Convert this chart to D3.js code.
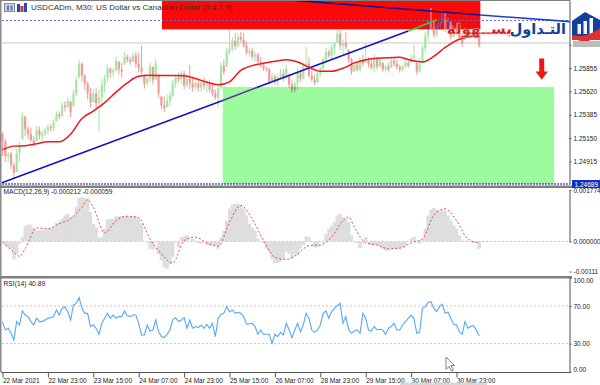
<!DOCTYPE html>
<html>
<head>
<meta charset="utf-8">
<script src="https://cdn.jsdelivr.net/npm/d3@7"></script>
<style>
  html, body { margin: 0; padding: 0; background: #fff; overflow: hidden; }
  text { font-family: "Liberation Sans", sans-serif; fill: #222; }
</style>
</head>
<body>
<div id="chart"></div>
<script>
// one candle per hour
const firstOpen = 1.2519;
const highs = [1.2521,1.2514,1.2501,1.2501,1.2491,1.2504,1.2511,1.2541,1.2537,1.2527,1.2526,1.2517,1.2527,1.2527,1.2522,1.2526,1.2529,1.2529,1.2534,1.2542,
1.2542,1.2551,1.2552,1.2556,1.2552,1.2564,1.2577,1.2594,1.2591,1.2579,1.2572,1.2566,1.2564,1.2565,1.2564,1.2574,1.2579,1.2589,1.2586,1.2586,
1.2597,1.2592,1.2591,1.2601,1.2599,1.2597,1.2601,1.2602,1.2601,1.2608,1.2579,1.2579,1.2591,1.2587,1.2595,1.2579,1.2557,1.2557,1.2559,1.2562,
1.2574,1.2579,1.2581,1.2583,1.2583,1.2579,1.2589,1.2577,1.2572,1.2574,1.2574,1.2576,1.2572,1.2574,1.2571,1.2564,1.2569,1.2591,1.2594,1.2606,
1.2626,1.2617,1.2621,1.2621,1.2622,1.2621,1.2612,1.2606,1.2606,1.2602,1.2601,1.2597,1.2591,1.2587,1.2586,1.2581,1.2579,1.2579,1.2584,1.2584,
1.2589,1.2579,1.2574,1.2572,1.2586,1.2584,1.2591,1.2607,1.2596,1.2584,1.2579,1.2582,1.2587,1.2597,1.2606,1.2604,1.2609,1.2612,1.2624,1.2624,
1.2614,1.2622,1.2604,1.2596,1.2592,1.2592,1.2597,1.2599,1.2611,1.2596,1.2594,1.2599,1.2596,1.2596,1.2591,1.2589,1.2591,1.2596,1.2597,1.2594,
1.2589,1.2589,1.2594,1.2592,1.2599,1.2609,1.2591,1.2596,1.2609,1.2622,1.2634,1.2646,1.2634,1.2629,1.2636,1.2641,1.2641,1.2636,1.2632,1.2629,
1.2631,1.2624,1.2621,1.2626,1.2624,1.2626,1.2624,1.2621,1.2619];
const lows = [1.2497,1.2491,1.2491,1.2484,1.2474,1.2481,1.2491,1.2514,1.2517,1.2514,1.2511,1.2507,1.2512,1.2514,1.2512,1.2517,1.2519,1.2522,1.2522,1.2532,
1.2534,1.2537,1.2542,1.2546,1.2536,1.2547,1.2557,1.2576,1.2572,1.2564,1.2554,1.2546,1.2551,1.2544,1.2521,1.2547,1.2561,1.2571,1.2576,1.2577,
1.2582,1.2579,1.2576,1.2589,1.2591,1.2589,1.2592,1.2586,1.2581,1.2579,1.2565,1.2567,1.2571,1.2569,1.2574,1.2556,1.2544,1.2541,1.2546,1.2547,
1.2556,1.2566,1.2571,1.2569,1.2564,1.2566,1.2564,1.2562,1.2564,1.2562,1.2562,1.2564,1.2561,1.2561,1.2557,1.2554,1.2546,1.2564,1.2579,1.2587,
1.2599,1.2602,1.2604,1.2606,1.2611,1.2606,1.2599,1.2597,1.2594,1.2592,1.2589,1.2586,1.2583,1.2582,1.2569,1.2571,1.2569,1.2567,1.2574,1.2572,
1.2574,1.2566,1.2561,1.2561,1.2564,1.2572,1.2574,1.2586,1.2576,1.2572,1.2568,1.2571,1.2577,1.2582,1.2591,1.2596,1.2594,1.2599,1.2611,1.2604,
1.2599,1.2604,1.2591,1.2579,1.2582,1.2582,1.2582,1.2587,1.2591,1.2586,1.2584,1.2581,1.2584,1.2586,1.2582,1.2581,1.2582,1.2586,1.2587,1.2584,
1.2581,1.2582,1.2586,1.2586,1.2591,1.2594,1.2579,1.2581,1.2591,1.2601,1.2612,1.2624,1.2616,1.2617,1.2624,1.2631,1.2622,1.2624,1.2614,1.2617,
1.2621,1.2614,1.2607,1.2614,1.2616,1.2617,1.2617,1.2616,1.2606];
const closes = [1.2512,1.2497,1.2499,1.2488,1.2480,1.2500,1.2508,1.2537,1.2524,1.2519,1.2513,1.2510,1.2523,1.2518,1.2520,1.2523,1.2526,1.2525,1.2531,1.2539,
1.2537,1.2548,1.2546,1.2552,1.2541,1.2560,1.2573,1.2590,1.2578,1.2570,1.2560,1.2551,1.2560,1.2550,1.2556,1.2568,1.2575,1.2585,1.2581,1.2583,
1.2593,1.2584,1.2582,1.2597,1.2594,1.2592,1.2598,1.2590,1.2586,1.2582,1.2570,1.2575,1.2587,1.2573,1.2590,1.2560,1.2548,1.2545,1.2553,1.2558,
1.2570,1.2576,1.2574,1.2580,1.2568,1.2575,1.2570,1.2566,1.2570,1.2566,1.2571,1.2568,1.2569,1.2564,1.2560,1.2556,1.2565,1.2588,1.2582,1.2602,
1.2605,1.2613,1.2608,1.2617,1.2614,1.2608,1.2601,1.2603,1.2597,1.2599,1.2592,1.2589,1.2585,1.2584,1.2572,1.2577,1.2572,1.2576,1.2580,1.2575,
1.2585,1.2569,1.2564,1.2570,1.2580,1.2575,1.2587,1.2590,1.2578,1.2574,1.2571,1.2580,1.2585,1.2594,1.2602,1.2598,1.2606,1.2610,1.2620,1.2608,
1.2611,1.2607,1.2594,1.2582,1.2589,1.2584,1.2594,1.2590,1.2594,1.2590,1.2586,1.2594,1.2587,1.2594,1.2584,1.2587,1.2584,1.2593,1.2590,1.2587,
1.2584,1.2587,1.2591,1.2588,1.2596,1.2598,1.2582,1.2590,1.2605,1.2618,1.2630,1.2627,1.2619,1.2626,1.2632,1.2634,1.2625,1.2632,1.2617,1.2626,
1.2623,1.2616,1.2610,1.2623,1.2618,1.2622,1.2619,1.2618,1.2608];
// moving average, one value every 4 candles
const maValues = [1.25033,1.2507,1.25073,1.25093,1.25113,1.25113,1.2519,1.25347,1.25423,1.25507,1.25613,1.25707,1.25773,1.25783,1.2578,1.2578,1.25777,1.2575,1.25713,1.25687,
1.25717,1.25833,1.2588,1.25903,1.25923,1.2594,1.25917,1.25863,1.25823,1.25823,1.25853,1.25907,1.2594,1.25953,1.2596,1.25963,1.25933,1.25917,1.25973,1.26063,1.26133,1.26167,1.26183];
const maBars = d3.range(0, 169, 4);

const macdHist = [-0.00002,-0.00012,-0.00020,-0.00025,-0.00062,-0.00043,-0.00008,0.00015,0.00053,0.00058,0.00058,0.00046,0.00038,0.00041,0.00041,0.00041,0.00044,0.00046,0.00049,0.00064,
0.00069,0.00078,0.00090,0.00095,0.00084,0.00090,0.00118,0.00150,0.00153,0.00150,0.00147,0.00101,0.00061,0.00049,0.00013,0.00015,0.00044,0.00076,0.00078,0.00078,
0.00087,0.00087,0.00087,0.00087,0.00087,0.00087,0.00087,0.00087,0.00078,0.00061,-0.00002,-0.00002,-0.00025,-0.00028,-0.00002,-0.00043,-0.00066,-0.00089,-0.00094,-0.00077,
-0.00054,-0.00002,-0.00020,0.00015,0.00018,0.00021,-0.00002,0.00009,0.00003,-0.00005,-0.00008,-0.00002,-0.00012,-0.00014,-0.00012,-0.00014,-0.00025,0.00015,0.00038,0.00072,
0.00113,0.00127,0.00130,0.00130,0.00124,0.00113,0.00090,0.00061,0.00049,0.00038,0.00009,0,-0.00005,-0.00025,-0.00037,-0.00060,-0.00074,-0.00074,-0.00069,-0.00060,
-0.00035,-0.00043,-0.00058,-0.00043,-0.00048,-0.00025,-0.00012,0.00018,0.00015,-0.00002,-0.00020,-0.00020,-0.00002,-0.00005,0.00026,0.00044,0.00055,0.00067,0.00090,0.00095,
0.00084,0.00078,0.00067,0.00021,0,-0.00005,-0.00023,-0.00005,0.00015,-0.00005,-0.00012,-0.00014,-0.00012,-0.00016,-0.00025,-0.00031,-0.00033,-0.00025,-0.00025,-0.00025,
-0.00023,-0.00020,-0.00012,-0.00002,0.00009,0.00017,0.00003,-0.00008,0.00009,0.00044,0.00090,0.00110,0.00115,0.00110,0.00104,0.00110,0.00107,0.00090,0.00072,0.00055,
0.00044,0.00021,0.00003,0.00003,0,0,-0.00005,-0.00005,-0.00025];
const signalBars = [0,4,6,8,12,16,20,24,28,30,32,36,40,44,48,52,56,60,64,68,72,76,80,84,88,92,96,100,104,108,112,116,120,122,124,128,132,136,140,144,148,152,156,160,164,168];
const signalValues = [-0.00002,-0.00037,-0.00051,-0.00025,0.00047,0.00044,0.00061,0.00078,0.00118,0.00144,0.00118,0.00030,0.00072,0.00087,0.00082,0.00009,-0.00043,-0.00074,0.00003,0.00015,
-0.00005,-0.00016,0.00067,0.00124,0.00078,0.00003,-0.00054,-0.00062,-0.00043,-0.00014,-0.00012,0.00015,0.00072,0.00084,0.00049,-0.00005,-0.00012,-0.00025,-0.00023,-0.00005,0.00009,0.00090,0.00113,0.00072,0.00009,-0.00005];

const rsiValues = [53.4,44.5,46.3,41,33.9,53.4,49.8,64.7,60.4,58.7,53.4,49.8,56.9,53.4,53.4,55.1,56.9,57.6,58.7,65.8,
60.4,67.5,69.3,64,55.1,71.1,72.8,78.9,67.5,62.2,62.2,48.1,49.8,46.3,39.9,51.6,56.9,62.2,56.9,60.4,
56.9,58.7,58.7,64.7,59.7,58.7,60.4,60.4,51.6,39.2,39.2,49.8,43.4,44.5,55.1,42.7,37.4,36.4,39.9,44.5,
55.1,57.6,53.4,55.1,57.6,46.3,55.1,46.3,48.1,47,49.8,46.3,50.5,46.3,51.6,37.4,56.9,61.1,62.2,69.3,
64,65.8,62.2,63.3,62.2,58.7,50.5,51.2,51.6,48.1,39.9,44.5,39.9,39.9,39.9,30.4,39.9,37.4,42,39.2,
51.6,44.5,36.4,44.5,51.6,42.7,49.8,62.2,56.9,44.5,42,44.5,49.8,62.2,64.7,56.9,64,67.5,70.4,72.8,
51.6,58.7,44.5,41,43.4,44.5,41,62.2,56.9,44.5,43.4,48.1,44.5,45.2,44.5,39.9,46.3,48.1,51.6,44.5,
44.5,49.8,53.4,56.9,60.4,56.9,41,42,67.5,69.3,73.9,74.6,67.5,64,69.3,71.8,62.2,63.3,56.9,50.5,
49.8,42.7,39.9,53.4,46.3,48.1,49.1,44.5,38];

const priceTicks = [1.2609,1.25855,1.2562,1.25385,1.2515,1.24915];
const lastPrice = 1.24689;
const topLine = 1.26333;   // dotted line
const midLine = 1.26108;   // grey line
const macdTicks = [0.001774,0,-0.00111];
const rsiTicks = [100,70,30,0];
const timeBars = [0,16,32,48,64,80,96,112,128,144,160];
const timeLabels = ["22 Mar 2021","22 Mar 23:00","23 Mar 15:00","24 Mar 07:00","24 Mar 23:00","25 Mar 15:00","26 Mar 07:00","28 Mar 23:00","29 Mar 15:00","30 Mar 07:00","30 Mar 23:00"];

const opens = [firstOpen].concat(closes.slice(0, -1));

const width = 600, height = 385, axisX = 570;
const svg = d3.select("#chart").append("svg")
    .attr("width", width).attr("height", height)
    .style("display", "block");

// bars are 2.84 px apart
const x = d3.scaleLinear().domain([0, 160]).range([2.5, 456.5]);
const yPrice = d3.scaleLinear().domain([1.2654, lastPrice]).range([0, 184]);
const yMacd = d3.scaleLinear().domain([0, 0.001774]).range([241.5, 190]);
const yRsi = d3.scaleLinear().domain([100, 0]).range([277.8, 371.8]);

// boxes
const redBox = {x0: x(56.2), x1: x(168.4), y0: 1.2654, y1: 1.26245};
const greenBox = {x0: x(77.6), x1: x(194.4), y0: 1.25665, y1: lastPrice};

svg.append("rect").attr("x", greenBox.x0).attr("width", greenBox.x1 - greenBox.x0)
    .attr("y", yPrice(greenBox.y0)).attr("height", yPrice(greenBox.y1) - yPrice(greenBox.y0))
    .attr("fill", "#9cfb9c");
svg.append("rect").attr("x", redBox.x0).attr("width", redBox.x1 - redBox.x0)
    .attr("y", yPrice(redBox.y0) + 1).attr("height", yPrice(redBox.y1) - yPrice(redBox.y0) - 1)
    .attr("fill", "#fb0808");

const defs = svg.append("defs");
defs.append("clipPath").attr("id", "clipRed").append("rect")
    .attr("x", redBox.x0).attr("width", redBox.x1 - redBox.x0)
    .attr("y", 0).attr("height", yPrice(redBox.y1));
defs.append("clipPath").attr("id", "clipGreen").append("rect")
    .attr("x", greenBox.x0).attr("width", greenBox.x1 - greenBox.x0)
    .attr("y", yPrice(greenBox.y0)).attr("height", 100);

// level lines
svg.append("line").attr("x1", 2).attr("x2", axisX)
    .attr("y1", yPrice(midLine)).attr("y2", yPrice(midLine))
    .attr("stroke", "#c8c8c8").attr("stroke-width", 1);
svg.append("line").attr("x1", 2).attr("x2", axisX)
    .attr("y1", yPrice(topLine)).attr("y2", yPrice(topLine))
    .attr("stroke", "#6666e0").attr("stroke-width", 1).attr("stroke-dasharray", "2 2");
svg.append("line").attr("x1", 2).attr("x2", axisX)
    .attr("y1", yPrice(lastPrice)).attr("y2", yPrice(lastPrice))
    .attr("stroke", "#101070").attr("stroke-width", 1).attr("stroke-dasharray", "2 1");

function drawCandles(g, up, down) {
    const c = g.selectAll("g").data(closes).join("g");
    c.append("line")
        .attr("x1", (d, i) => x(i)).attr("x2", (d, i) => x(i))
        .attr("y1", (d, i) => yPrice(highs[i])).attr("y2", (d, i) => yPrice(lows[i]))
        .attr("stroke", (d, i) => d >= opens[i] ? up : down).attr("stroke-width", 1);
    c.append("rect")
        .attr("x", (d, i) => x(i) - 1.1).attr("width", 2.2)
        .attr("y", (d, i) => yPrice(Math.min(highs[i], Math.max(d, opens[i]))))
        .attr("height", (d, i) => Math.max(1, yPrice(Math.max(lows[i], Math.min(d, opens[i]))) - yPrice(Math.min(highs[i], Math.max(d, opens[i])))))
        .attr("fill", (d, i) => d >= opens[i] ? up : down);
}
drawCandles(svg.append("g"), "#a4e6a4", "#f29a9a");
drawCandles(svg.append("g").attr("clip-path", "url(#clipGreen)"), "#8fa08f", "#a09090");
drawCandles(svg.append("g").attr("clip-path", "url(#clipRed)"), "#7c2c8c", "#f06a70");

// trend lines, bar / price
const trendA = [[-0.2, 1.24702], [77.6, 1.25530], [89.6, 1.25660], [143, 1.26229], [153, 1.26339]];
const trendB = [[101.4, 1.26540], [168.4, 1.26389], [200, 1.26322]];
function trendSeg(p, q, color) {
    svg.append("line").attr("x1", x(p[0])).attr("y1", yPrice(p[1])).attr("x2", x(q[0])).attr("y2", yPrice(q[1]))
        .attr("stroke", color).attr("stroke-width", 1.6);
}
trendSeg(trendA[0], trendA[1], "#1212c8");
trendSeg(trendA[1], trendA[2], "#6a2aa8");
trendSeg(trendA[2], trendA[3], "#1212c8");
trendSeg(trendA[3], trendA[4], "#30d030");
trendSeg(trendB[0], trendB[1], "#10108c");
trendSeg(trendB[1], trendB[2], "#1f3fd0");

// moving average
svg.append("path").datum(maValues)
    .attr("fill", "none").attr("stroke", "#f01818").attr("stroke-width", 1.5)
    .attr("d", d3.line().x((d, i) => x(maBars[i])).y(d => yPrice(d)).curve(d3.curveMonotoneX));

// arrow
svg.append("path").attr("d", "M539.2,58.5h5v13h3.6l-6.1,8.2l-6.1,-8.2h3.6z").attr("fill", "#f01414");

// arabic text
svg.append("text").attr("x", 512).attr("y", 34).attr("text-anchor", "end")
    .style("font-family", "DejaVu Sans").style("font-weight", "bold").style("font-size", "15px")
    .style("fill", "#d01818").style("stroke", "#f6a8a8").style("stroke-width", "0.5px")
    .text("بســهولة");
svg.append("text").attr("x", 566).attr("y", 34).attr("text-anchor", "end")
    .style("font-family", "DejaVu Sans").style("font-weight", "bold").style("font-size", "14.5px")
    .style("fill", "#123f9c").text("التـداول");

// MACD pane
svg.append("line").attr("x1", 2).attr("x2", axisX).attr("y1", yMacd(0)).attr("y2", yMacd(0))
    .attr("stroke", "#c4c4c4").attr("stroke-dasharray", "2 2");
svg.append("g").selectAll("rect").data(macdHist).join("rect")
    .attr("x", (d, i) => x(i) - 1.7).attr("width", 3.4)
    .attr("y", d => Math.min(yMacd(d), yMacd(0)))
    .attr("height", d => Math.abs(yMacd(d) - yMacd(0)))
    .attr("fill", "#dedede");
svg.append("path").datum(signalValues)
    .attr("fill", "none").attr("stroke", "#f0484c").attr("stroke-width", 1).attr("stroke-dasharray", "2 2")
    .attr("d", d3.line().x((d, i) => x(signalBars[i])).y(d => yMacd(d)).curve(d3.curveMonotoneX));

// RSI pane
svg.append("g").selectAll("line").data([70, 30]).join("line")
    .attr("x1", 2).attr("x2", axisX).attr("y1", d => yRsi(d)).attr("y2", d => yRsi(d))
    .attr("stroke", "#c4c4c4").attr("stroke-dasharray", "2 2");
svg.append("path").datum(rsiValues)
    .attr("fill", "none").attr("stroke", "#58a8f6").attr("stroke-width", 1.1)
    .attr("d", d3.line().x((d, i) => x(i)).y(d => yRsi(d)));

// frame
svg.append("rect").attr("x", 0).attr("y", 0).attr("width", 1.5).attr("height", 372).attr("fill", "#8a8a8a");
svg.append("rect").attr("x", 0).attr("y", 0).attr("width", axisX).attr("height", 1).attr("fill", "#808080");
svg.append("rect").attr("x", 0).attr("y", 185.5).attr("width", axisX + 30).attr("height", 2.5).attr("fill", "#808080");
svg.append("rect").attr("x", 0).attr("y", 276).attr("width", axisX + 2).attr("height", 2.5).attr("fill", "#808080");

// axes
function styleAxis(g) {
    g.selectAll("path.domain").attr("stroke", "#555");
    g.selectAll("line").attr("stroke", "#555");
    g.selectAll("text").style("font-size", "6.5px").style("font-family", "Liberation Sans").style("fill", "#222");
}
svg.append("g").attr("transform", `translate(${axisX - 0.5},0)`)
    .call(d3.axisRight(yPrice).tickValues(priceTicks).tickFormat(d3.format(".5f")).tickSize(2).tickSizeOuter(0).tickPadding(2))
    .call(styleAxis);
svg.append("g").attr("transform", `translate(${axisX - 0.5},0)`)
    .call(d3.axisRight(yMacd).tickValues(macdTicks).tickFormat(d => d === 0 ? "0.000000" : d > 0 ? "0.001774" : "-0.00111").tickSize(2).tickSizeOuter(0).tickPadding(2))
    .call(styleAxis)
    .call(g => g.selectAll(".tick").filter(d => d < 0).attr("transform", `translate(0,272)`));
svg.append("g").attr("transform", `translate(${axisX - 0.5},0)`)
    .call(d3.axisRight(yRsi).tickValues(rsiTicks).tickFormat(d3.format(".2f")).tickSize(2).tickSizeOuter(0).tickPadding(2))
    .call(styleAxis)
    .call(g => g.selectAll(".tick").filter(d => d === 100).select("text").attr("dy", "0.7em"))
    .call(g => g.selectAll(".tick").filter(d => d === 0).select("text").attr("dy", "-0.1em"));
svg.append("g").attr("transform", "translate(0,372.5)")
    .call(d3.axisBottom(x).tickValues(timeBars).tickFormat((d, i) => timeLabels[i]).tickSize(5).tickSizeOuter(0).tickPadding(1))
    .call(styleAxis)
    .call(g => g.select("path.domain").attr("d", `M1,0H${axisX}`))
    .call(g => g.selectAll("text").attr("text-anchor", "start").attr("x", 0));

// last price tag
svg.append("rect").attr("x", 572).attr("y", 180).attr("width", 28).attr("height", 8).attr("fill", "#1030c0");
svg.append("text").attr("x", 574.5).attr("y", yPrice(lastPrice) + 2.5)
    .style("font-size", "6.5px").style("fill", "#fff").text(lastPrice.toFixed(5));

// titles
svg.append("text").attr("x", 31).attr("y", 10).style("font-size", "8px").style("fill", "#333")
    .text("USDCADm, M30:  US Dollar vs Canadian Dollar (0.4-1.9)");
svg.append("text").attr("x", 3.5).attr("y", 194).style("font-size", "6.6px").text("MACD(12,26,9) -0.000212 -0.000059");
svg.append("text").attr("x", 3.5).attr("y", 286).style("font-size", "6.7px").text("RSI(14) 40.89");

// header icons
svg.append("rect").attr("x", 4.5).attr("y", 3.5).attr("width", 10).attr("height", 8).attr("fill", "#c8d4ec").attr("stroke", "#8a8a9a");
svg.append("rect").attr("x", 7).attr("y", 5.5).attr("width", 2).attr("height", 5).attr("fill", "#5a78c8");
svg.append("rect").attr("x", 10.5).attr("y", 5.5).attr("width", 2).attr("height", 5).attr("fill", "#5a78c8");
svg.append("rect").attr("x", 17).attr("y", 4).attr("width", 3).attr("height", 8).attr("fill", "#2a4aa8");
svg.append("rect").attr("x", 20.5).attr("y", 6).attr("width", 3).attr("height", 6).attr("fill", "#d83030");
svg.append("rect").attr("x", 24).attr("y", 3).attr("width", 3).attr("height", 9).attr("fill", "#2a4aa8");

// logo
svg.append("path").attr("d", "M572,21L585,12L600,20V40H572Z").attr("fill", "#123f9c");
svg.append("g").selectAll("rect").data([0, 1, 2]).join("rect")
    .attr("x", d => 577.5 + d * 6).attr("y", d => 24 - d * 3).attr("width", 3.5).attr("height", d => 10 + d * 3)
    .attr("fill", "#f2f4fa");
svg.append("path").attr("d", "M572,35C582,38 592,34 600,28V40H590L586,44L578,40H572Z").attr("fill", "#e03030");
svg.append("rect").attr("x", 573).attr("y", 41).attr("width", 27).attr("height", 6).attr("fill", "#bcbcbc");

// scrollbar tab, mouse pointer
svg.append("rect").attr("x", 400).attr("y", 382.5).attr("width", 87).attr("height", 3).attr("fill", "#d8d8d8");
svg.append("path").attr("d", "M446,357V369.5L449,366.5L451.5,371L453.5,370L451,365.5H454.5Z")
    .attr("fill", "#fff").attr("stroke", "#707070").attr("stroke-width", 0.9);
</script>
</body>
</html>
